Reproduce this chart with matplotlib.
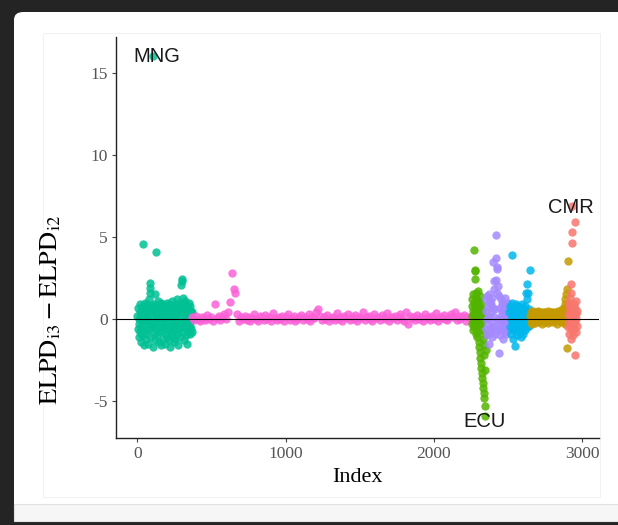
import numpy as np
import matplotlib.pyplot as plt
from matplotlib.patches import FancyBboxPatch, Rectangle

plt.rcParams['mathtext.fontset'] = 'stix'
plt.rcParams['axes.unicode_minus'] = False

# pointwise ELPD differences, one list per country block (in index order)
mng_vals = [0.2, -0.6, 0.7, -1.1, 0.0, -0.3, 0.9, -0.8, 0.4, -1.4,
            0.1, -0.5, 0.6, -1.0, 0.3, 4.6, -0.2, 0.8, -1.6, 0.5,
            -0.4, 1.0, -0.9, 0.2, -1.2, 0.6, -0.1, 0.9, -0.7, 0.3,
            -1.5, 0.0, 0.7, -0.6, 1.2, 2.2, 1.9, 1.6, -0.3, 0.5,
            -1.1, 0.8, -0.4, 0.1, -1.7, 0.6, 16.05, -0.2, 0.9, -0.9,
            0.4, -1.3, 1.5, 0.2, -0.6, 4.1, 0.7, -1.0, 0.0, 1.1,
            -0.5, 0.3, -1.4, 0.8, -0.2, 0.5, -0.8, 1.0, -1.6, 0.1,
            0.6, -0.7, 0.9, -0.3, 0.4, -1.2, 0.2, 0.7, -0.5, -1.5,
            0.8, 0.0, -0.9, 0.5, -0.2, 1.0, -1.1, 0.3, -0.6, 0.6,
            -1.3, 0.2, 0.9, -0.4, -1.7, 0.7, 0.1, -0.8, 0.4, -0.1,
            1.1, -1.0, 0.5, -0.5, 0.8, -1.4, 0.0, 0.6, -0.7, 0.3,
            -1.2, 0.9, -0.3, 0.2, 1.2, -0.9, 0.5, -1.6, 0.7, -0.2,
            0.4, -0.6, 1.0, -1.1, 0.1, 0.8, -0.4, 2.1, 2.3, 0.6,
            2.45, -0.8, 1.3, -0.1, 0.5, -1.3, 0.9, 0.2, -0.5, 1.1,
            -1.0, 0.4, -0.3, 0.7, -1.5, 0.0, 0.6, -0.7, 1.0, -0.2,
            0.3, -0.9, 0.8, -0.4, 0.5, -0.6, 0.2, -0.8, 0.4, 0.0]

pink_vals = [0.1, -0.05, 0.2, 0.0, -0.1, 0.15, 0.05, -0.08, 0.25, 0.0,
             0.1, -0.1, 0.9, 0.05, 0.2, -0.05, 0.1, 0.3, 0.0, 0.45,
             1.05, 2.8, 1.85, 1.6, 0.3, -0.1, 0.1, 0.0, 0.2, -0.05,
             0.15, -0.1, 0.05, 0.3, 0.0, -0.15, 0.2, 0.1, -0.05, 0.25,
             0.0, 0.1, -0.1, 0.35, 0.05, -0.05, 0.15, 0.0, 0.2, -0.1,
             0.1, 0.3, -0.05, 0.05, 0.2, -0.15, 0.0, 0.15, 0.25, -0.05,
             0.1, 0.0, 0.3, -0.1, 0.15, 0.05, 0.4, 0.6, 0.2, -0.05,
             0.1, 0.0, 0.25, -0.1, 0.05, 0.15, -0.05, 0.35, 0.0, 0.1,
             -0.1, 0.2, 0.05, 0.3, -0.05, 0.1, 0.0, 0.25, -0.15, 0.15,
             0.05, 0.4, -0.05, 0.1, 0.2, 0.0, -0.1, 0.3, 0.05, 0.15,
             -0.05, 0.25, 0.1, 0.0, 0.35, -0.1, 0.15, 0.05, 0.2, -0.05,
             0.1, 0.3, 0.0, -0.1, 0.45, -0.3, 0.2, 0.05, 0.1, -0.05,
             0.25, 0.0, 0.15, -0.1, 0.3, 0.05, 0.1, -0.05, 0.2, 0.0,
             0.35, -0.1, 0.1, 0.05, 0.25, 0.0, -0.05, 0.15, 0.3, 0.1,
             0.4, -0.05, 0.2, 0.0, 0.1, 0.25, -0.1, 0.15, 0.05, 0.2]

ecu_vals = [0.8, -0.3, 1.2, 0.2, -0.7, 1.5, 0.5, -0.2, 4.2, 1.0,
            -0.5, 0.3, 3.0, 2.9, 2.45, 0.7, -0.9, 1.6, 0.0, -0.4,
            1.3, 0.6, -1.1, 0.9, -0.1, 1.7, 0.4, -0.8, 1.1, -1.4,
            0.2, -1.7, 0.8, -2.0, -0.3, 1.4, -2.4, 0.5, -2.7, -0.6,
            -3.0, 1.0, -3.3, -0.2, -3.6, 0.3, -3.9, -1.2, -4.2, 0.6,
            -4.5, -1.6, -4.8, -2.2, -5.3, -0.9, -5.9, -3.1, -1.9, 0.1]

purple_vals = [0.5, -0.6, 1.2, 0.0, -1.0, 1.4, 0.8, -0.3, 1.5, -1.5,
               0.2, 1.1, -0.6, 1.0, -0.8, 0.4, 0.9, -0.2, 1.3, -1.1,
               0.7, 3.5, -0.5, 2.3, 0.1, 1.8, -0.9, 0.6, -0.4, 2.4,
               3.7, 5.1, 3.2, 3.05, 1.6, -0.7, 2.0, 0.0, -2.1, 1.4,
               -0.2, 0.7, -1.0, 1.2, 0.2, -0.6, 0.9, -0.3, 0.5, -1.2,
               1.0, 0.1, -0.8, 0.6, -0.1, 1.3, -0.5, 0.4, -0.9, 0.8,
               0.0, -0.4, 0.7, -0.7, 0.3, 1.0, -0.2, 0.5, -0.6, 0.2]

blue_vals = [0.4, -0.5, 0.8, 0.0, -0.9, 0.6, -0.2, 1.0, 3.9, -0.7,
             0.3, -1.2, 0.7, -0.4, 0.1, -1.65, 0.5, -0.1, 0.9, -0.6,
             0.2, -1.0, 0.6, -0.3, 0.8, 0.0, -0.8, 0.4, -0.5, 0.7,
             -0.2, 0.3, -1.1, 0.5, 0.1, -0.6, 0.9, -0.4, 0.2, -0.9,
             0.6, 0.0, -0.3, 0.8, -0.7, 0.4, 1.6, -0.1, 0.5, 2.15,
             -0.5, 1.2, 0.3, -0.2, 1.6, 0.6, -0.4, 3.0, 0.2, 0.0]

gold_vals = [0.2, -0.2, 0.4, 0.0, 0.3, -0.3, 0.1, 0.5, -0.1, 0.2,
             0.35, -0.25, 0.1, 0.45, 0.0, 0.25, -0.15, 0.3, 0.05, 0.5,
             -0.2, 0.15, 0.4, -0.1, 0.25, 0.0, 0.35, -0.3, 0.2, 0.1,
             0.45, -0.05, 0.3, 0.15, -0.2, 0.4, 0.05, 0.25, -0.1, 0.3,
             0.1, 0.5, -0.25, 0.2, 0.35, 0.0, 0.15, -0.15, 0.4, 0.25,
             -0.05, 0.3, 0.1, 0.45, -0.2, 0.2, 0.35, 0.0, 0.25, -0.1,
             0.4, 0.15, -0.3, 0.3, 0.05, 0.5, 0.2, -0.15, 0.35, 0.1,
             0.25, -0.05, 0.45, 0.3, -0.2, 0.6, 0.15, 0.4, -0.1, 0.7,
             0.3, 0.9, -0.3, 1.2, 0.5, 1.5, -1.8, 1.8, 3.55, 0.8]

cmr_vals = [0.3, -0.5, 0.8, -0.2, 1.0, -0.9, 0.5, -0.4, 0.0, 1.3,
            -1.2, 0.6, 2.14, 1.6, 4.66, 5.33, 6.9, -0.7, 0.2, -1.0,
            0.4, -0.3, 0.9, 0.1, -0.6, 0.7, 5.94, -2.2, -0.1, 0.3,
            -0.8, 1.1, 0.0, -0.4, 0.5]

# index range covered by each block
blocks = [
    (mng_vals, 0, 370, '#00C094'),
    (pink_vals, 370, 2255, '#FB61D7'),
    (ecu_vals, 2255, 2350, '#53B400'),
    (purple_vals, 2350, 2510, '#A58AFF'),
    (blue_vals, 2510, 2650, '#00B6EB'),
    (gold_vals, 2650, 2905, '#C49A00'),
    (cmr_vals, 2905, 2965, '#F8766D'),
]

# labelled observations and where their text sits
label_names = ['MNG', 'ECU', 'CMR']
label_x = [130, 2340, 2925]
label_y = [16.0, -6.25, 6.8]

fig = plt.figure(figsize=(6.18, 5.25), dpi=100)
fig.patch.set_facecolor('#242424')

# white card behind the plot
card = FancyBboxPatch((14 / 618, 1 - 521 / 525), 640 / 618, 509 / 525,
                      boxstyle='round,pad=0,rounding_size=0.015',
                      transform=fig.transFigure, facecolor='white',
                      edgecolor='none', zorder=-3)
fig.patches.append(card)
fig.patches.append(Rectangle((14 / 618, 1 - 521 / 525), 1, 17 / 525,
                             transform=fig.transFigure, facecolor='#f6f6f6',
                             edgecolor='#e2e2e2', linewidth=0.8, zorder=-2))
fig.patches.append(Rectangle((43 / 618, 1 - 497 / 525), 557 / 618, 464 / 525,
                             transform=fig.transFigure, facecolor='none',
                             edgecolor='#f2f2f2', linewidth=0.8, zorder=-2))

ax = fig.add_axes([116 / 618, 1 - 438 / 525, 483 / 618, 401 / 525])
ax.set_facecolor('none')

for vals, start, end, col in blocks:
    idx = np.linspace(start, end, len(vals))
    ax.scatter(idx, vals, s=36, color=col, alpha=0.85, linewidths=0, zorder=2)

ax.axhline(0, color='black', linewidth=0.8, zorder=3)

for name, x, y in zip(label_names, label_x, label_y):
    ax.text(x, y, name, ha='center', va='center', fontsize=14.5,
            family='Liberation Sans', color='#1a1a1a', zorder=4)

ax.set_xlim(-145, 3114)
ax.set_ylim(-7.26, 17.2)
ax.set_xticks([0, 1000, 2000, 3000])
ax.set_yticks([-5, 0, 5, 10, 15])

for side in ['top', 'right']:
    ax.spines[side].set_visible(False)
for side in ['left', 'bottom']:
    ax.spines[side].set_color('#222222')
    ax.spines[side].set_linewidth(1.0)

ax.tick_params(length=3, width=0.8, color='#444444', labelcolor='#555555',
               labelsize=12.5, pad=3)
for lab in ax.get_xticklabels() + ax.get_yticklabels():
    lab.set_family('Liberation Serif')

ax.set_xlabel('Index', family='Liberation Serif', fontsize=16, labelpad=4)
ax.set_ylabel(r'$\mathrm{ELPD}_{\mathrm{i3}} - \mathrm{ELPD}_{\mathrm{i2}}$',
              fontsize=19)
ax.yaxis.set_label_coords(-0.108, 0.32)

fig.savefig('out.png', dpi=100, facecolor=fig.get_facecolor())
